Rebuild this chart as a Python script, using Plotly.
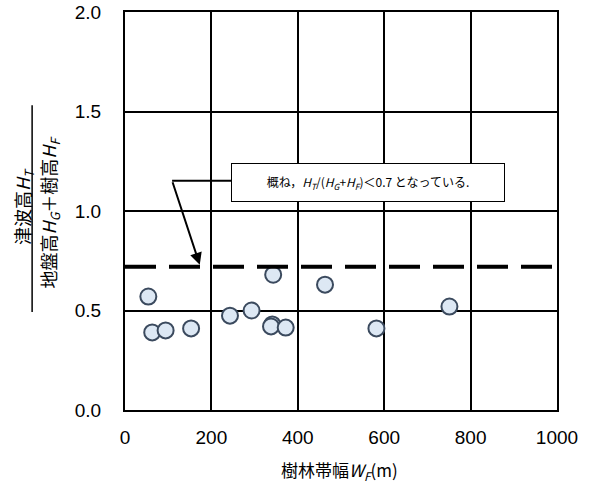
import plotly.graph_objects as go

# data
width_m = [54, 63, 94, 153, 243, 293, 343, 341, 338, 372, 463, 582, 751]
ratio = [0.57, 0.39, 0.40, 0.41, 0.474, 0.50, 0.68, 0.43, 0.42, 0.414, 0.63, 0.41, 0.52]
threshold = 0.72
x_ticks = [0, 200, 400, 600, 800, 1000]
y_ticks = [0.0, 0.5, 1.0, 1.5, 2.0]

FONT_NUM = "Liberation Sans, Arial, sans-serif"
FONT_JP = "Noto Sans CJK JP, sans-serif"

fig = go.Figure()

fig.add_trace(go.Scatter(
    x=width_m, y=ratio, mode="markers",
    marker=dict(size=16, color="#dde8f4", line=dict(color="#3b4a5e", width=2)),
    showlegend=False, cliponaxis=False, hoverinfo="skip",
))

# threshold dashed line
fig.add_shape(type="line", xref="x", yref="y", x0=0, x1=1000, y0=threshold, y1=threshold,
              line=dict(color="black", width=4, dash="31px,13px"), layer="above")

# callout connector
fig.add_shape(type="line", xref="x", yref="y", x0=109, x1=246, y0=1.152, y1=1.152,
              line=dict(color="black", width=2), layer="above")
fig.add_annotation(x=173, y=threshold + 0.01, ax=109, ay=1.152, axref="x", ayref="y",
                   xref="x", yref="y", text="", showarrow=True,
                   arrowhead=2, arrowsize=1.2, arrowwidth=2, arrowcolor="black")

# callout box
fig.add_annotation(x=563, y=1.143, xref="x", yref="y", showarrow=False,
                   text="概ね，<i>H<sub>T</sub></i>/(<i>H<sub>G</sub></i>+<i>H<sub>F</sub></i>)＜0.7 となっている.",
                   font=dict(family=FONT_JP, size=12, color="black"),
                   bgcolor="white", bordercolor="black", borderwidth=1, borderpad=2,
                   width=268, height=33)

# y-axis fraction title
fig.add_annotation(x=-0.236, y=0.510, xref="paper", yref="paper", showarrow=False,
                   xanchor="center", yanchor="middle",
                   text="津波高<i>H<sub>T</sub></i>", textangle=-90,
                   font=dict(family=FONT_JP, size=18, color="black"))
fig.add_shape(type="line", xref="paper", yref="paper", x0=-0.215, x1=-0.215, y0=0.246, y1=0.766,
              line=dict(color="black", width=1.5))
fig.add_annotation(x=-0.174, y=0.496, xref="paper", yref="paper", showarrow=False,
                   xanchor="center", yanchor="middle",
                   text="地盤高<i>H<sub>G</sub></i>＋樹高<i>H<sub>F</sub></i>", textangle=-90,
                   font=dict(family=FONT_JP, size=18, color="black"))

# x-axis title
fig.add_annotation(x=0.497, y=-0.151, xref="paper", yref="paper", showarrow=False,
                   xanchor="center", yanchor="middle",
                   text="樹林帯幅<i>W<sub>F</sub></i>(m)",
                   font=dict(family=FONT_JP, size=17, color="black"))

fig.update_xaxes(range=[0, 1000], tickvals=x_ticks, showgrid=True, gridcolor="black", gridwidth=2,
                 showline=True, linecolor="black", linewidth=2, mirror=True, zeroline=False,
                 ticks="outside", ticklen=9, tickcolor="rgba(0,0,0,0)", automargin=False,
                 tickfont=dict(family=FONT_NUM, size=19, color="black"))
fig.update_yaxes(range=[0, 2.0], tickvals=y_ticks, tickformat=".1f", showgrid=True, gridcolor="black",
                 gridwidth=2, showline=True, linecolor="black", linewidth=2, mirror=True, zeroline=False,
                 ticks="outside", ticklen=18, tickcolor="rgba(0,0,0,0)", automargin=False,
                 tickfont=dict(family=FONT_NUM, size=19, color="black"))

fig.update_layout(width=590, height=485, margin=dict(l=125, r=33, t=12, b=75),
                  plot_bgcolor="white", paper_bgcolor="white")

fig.write_html("out.html", config={"displayModeBar": False},
               post_script="document.body.style.margin='0';")
